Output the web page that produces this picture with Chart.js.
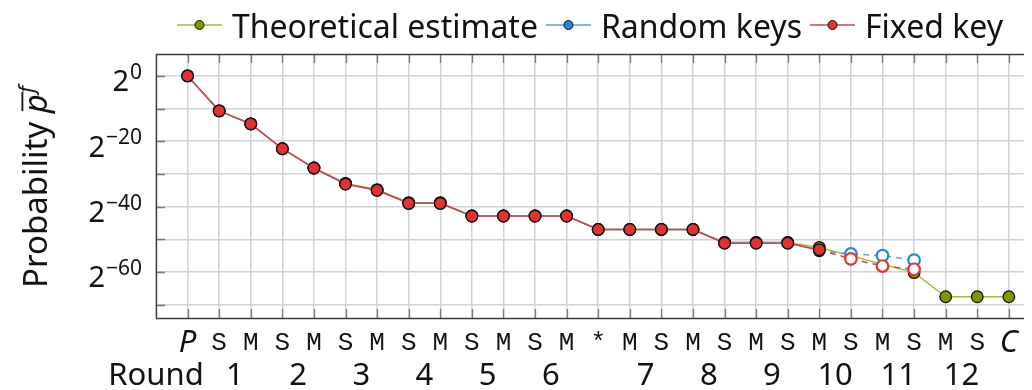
<!DOCTYPE html>
<html><head><meta charset="utf-8">
<script src="https://cdn.jsdelivr.net/npm/chart.js@4/dist/chart.umd.min.js"></script>
<style>html,body{margin:0;padding:0;background:#fff;}</style>
</head><body>
<canvas id="c" width="1032" height="390"></canvas>
<script>
// ---- data ----
const tickLabels = ['P','S','M','S','M','S','M','S','M','S','M','S','M','*','M','S','M','S','M','S','M','S','M','S','M','S','C'];
const roundLabels = ['1','2','3','4','5','6','7','8','9','10','11','12'];
const roundPositions = [1.5,3.5,5.5,7.5,9.5,11.5,14.5,16.5,18.5,20.5,22.5,24.5];
const yTickExponents = [0,-20,-40,-60];
const seriesNames = ['Theoretical estimate','Random keys','Fixed key'];
const theoretical = [0,-10.7,-14.7,-22.3,-28.2,-32.9,-34.8,-38.8,-38.8,-42.9,-42.9,-42.9,-42.9,-47,-47,-47,-47,-51,-51,-51,-52.5,null,null,-60.2,-67.6,-67.6,-67.6];
const randomKeys = [0,-10.7,-14.7,-22.3,-28.2,-33.1,-35,-39,-39,-42.9,-42.9,-42.9,-42.9,-47,-47,-47,-47,-51,-51,-51,-53.5,-54.5,-55.0,-56.4,null,null,null];
const fixedKey = [0,-10.7,-14.7,-22.3,-28.2,-33.1,-35,-39,-39,-42.9,-42.9,-42.9,-42.9,-47,-47,-47,-47,-51.2,-51.2,-51.2,-53.2,-56,-58.2,-59.2,null,null,null];

const OPEN_FROM = 21;
const FONT = '"Noto Sans", "Open Sans", sans-serif';
const toXY = arr => arr.map((v,i)=>({x:i,y:v}));

const palette = [
  {line:'#a3bb3a', fill:'#7c9800'},
  {line:'#5aa4e0', fill:'#2a86d4'},
  {line:'#d24545', fill:'#e23232'}
];

function measuredDataset(label, data, pal, order){
  return {
    label, data: toXY(data), order,
    borderColor: pal.line, borderWidth: 1.5,
    pointRadius: 5.8, pointHoverRadius: 5.8,
    pointBackgroundColor: c => c.dataIndex >= OPEN_FROM ? '#ffffff' : pal.fill,
    pointBorderColor: c => c.dataIndex >= OPEN_FROM ? pal.fill : '#111111',
    pointBorderWidth: c => c.dataIndex >= OPEN_FROM ? 2.2 : 1.3,
    segment: { borderDash: c => c.p0DataIndex >= 20 ? [6,5] : undefined },
    spanGaps: false
  };
}

const decor = {
  id: 'decor',
  beforeDatasetsDraw(chart){
    const ctx = chart.ctx, a = chart.chartArea, xs = chart.scales.x, ys = chart.scales.y;
    ctx.save();
    ctx.strokeStyle = '#7a7a7a'; ctx.lineWidth = 1.3;
    ctx.beginPath();
    for (let i = 0; i < tickLabels.length; i++){
      const px = Math.round(xs.getPixelForValue(i)) + 0.5;
      ctx.moveTo(px, a.top); ctx.lineTo(px, a.top + 9);
      ctx.moveTo(px, a.bottom); ctx.lineTo(px, a.bottom - 9);
    }
    for (let v = 0; v >= -70; v -= 10){
      const py = Math.round(ys.getPixelForValue(v)) + 0.5;
      ctx.moveTo(a.left, py); ctx.lineTo(a.left + 9, py);
    }
    ctx.stroke();
    ctx.strokeStyle = '#3a3a3a'; ctx.lineWidth = 1.3;
    ctx.beginPath();
    ctx.moveTo(a.right, a.top + 0.5); ctx.lineTo(a.left + 0.5, a.top + 0.5);
    ctx.lineTo(a.left + 0.5, a.bottom + 0.5); ctx.lineTo(a.right, a.bottom + 0.5);
    ctx.stroke();
    ctx.restore();
  },
  afterDraw(chart){
    const ctx = chart.ctx, a = chart.chartArea, xs = chart.scales.x, ys = chart.scales.y;
    ctx.save();
    ctx.fillStyle = '#111'; ctx.textBaseline = 'alphabetic'; ctx.textAlign = 'left';
    yTickExponents.forEach(e => {
      const py = ys.getPixelForValue(e);
      const sup = (e < 0 ? '\u2212' : '') + Math.abs(e);
      ctx.font = '29px ' + FONT; const wb = ctx.measureText('2').width;
      ctx.font = '21px ' + FONT; const ws = ctx.measureText(sup).width;
      const xr = a.left - 14, x0 = xr - ws - 1 - wb;
      ctx.font = '29px ' + FONT; ctx.fillText('2', x0, py + 15.5);
      ctx.font = '21px ' + FONT; ctx.fillText(sup, x0 + wb + 1, py + 3);
    });
    ctx.save();
    ctx.translate(46.5, 0); ctx.rotate(-Math.PI/2);
    const start = -288;
    ctx.font = '33px ' + FONT; ctx.fillText('Probability ', start, 0);
    const w1 = ctx.measureText('Probability ').width;
    ctx.font = 'italic 33px ' + FONT; ctx.fillText('p', start + w1, 0);
    const wp = ctx.measureText('p').width;
    ctx.fillRect(start + w1 + 2, -25, wp, 1.8);
    ctx.font = 'italic 22px ' + FONT; ctx.fillText('f', start + w1 + wp + 1, -13);
    ctx.restore();
    ctx.textAlign = 'center';
    ctx.font = '31px ' + FONT;
    ctx.fillText('Round', xs.getPixelForValue(-1), 384.5);
    roundLabels.forEach((t, k) => ctx.fillText(t, xs.getPixelForValue(roundPositions[k]), 384.5));
    ctx.textAlign = 'left';
    let lx = 177; const ly = 25;
    chart.data.datasets.forEach((ds, k) => {
      ctx.strokeStyle = palette[k].line; ctx.lineWidth = 1.5;
      ctx.beginPath(); ctx.moveTo(lx, ly); ctx.lineTo(lx + 45, ly); ctx.stroke();
      ctx.beginPath(); ctx.arc(lx + 22.5, ly, 4.5, 0, Math.PI*2);
      ctx.fillStyle = palette[k].fill; ctx.fill();
      ctx.strokeStyle = '#111'; ctx.lineWidth = 1; ctx.stroke();
      ctx.fillStyle = '#111'; ctx.font = '32px ' + FONT;
      ctx.fillText(ds.label, lx + 55, 37.5);
      lx += 55 + ctx.measureText(ds.label).width + 8;
    });
    ctx.restore();
  }
};

new Chart(document.getElementById('c'), {
  type: 'line',
  data: {
    datasets: [
      {
        label: seriesNames[0], data: toXY(theoretical), order: 3,
        borderColor: palette[0].line, borderWidth: 1.5,
        pointRadius: 5.8, pointHoverRadius: 5.8,
        pointBackgroundColor: palette[0].fill, pointBorderColor: '#111111', pointBorderWidth: 1.3,
        spanGaps: true
      },
      measuredDataset(seriesNames[1], randomKeys, palette[1], 2),
      measuredDataset(seriesNames[2], fixedKey, palette[2], 1)
    ]
  },
  options: {
    responsive: false, animation: false, devicePixelRatio: 1,
    layout: { padding: { top: 54, left: 0, right: 0, bottom: 0 } },
    plugins: { legend: { display: false }, tooltip: { enabled: false } },
    scales: {
      x: {
        type: 'linear', min: -1, max: 26.48,
        afterFit: s => { s.height = 72; },
        border: { display: false },
        grid: { color: '#d2d2d2', lineWidth: 1.5, drawTicks: false },
        ticks: {
          stepSize: 1, includeBounds: false, autoSkip: false, maxRotation: 0, maxTicksLimit: 100,
          padding: 10, color: '#111',
          callback: v => (Number.isInteger(v) && v >= 0 && v < tickLabels.length) ? tickLabels[v] : '',
          font: c => {
            const l = c.tick ? tickLabels[c.tick.value] : '';
            return (l === 'P' || l === 'C')
              ? { family: FONT, style: 'italic', size: 31, lineHeight: '30px' }
              : { family: '"Liberation Mono", monospace', size: 26, lineHeight: '30px' };
          }
        }
      },
      y: {
        type: 'linear', min: -74.1, max: 6.7,
        afterFit: s => { s.width = 156; },
        border: { display: false },
        grid: { color: '#d2d2d2', lineWidth: 1.5, drawTicks: false },
        ticks: { stepSize: 10, includeBounds: false, display: false }
      }
    }
  },
  plugins: [decor]
});
</script>
</body></html>
